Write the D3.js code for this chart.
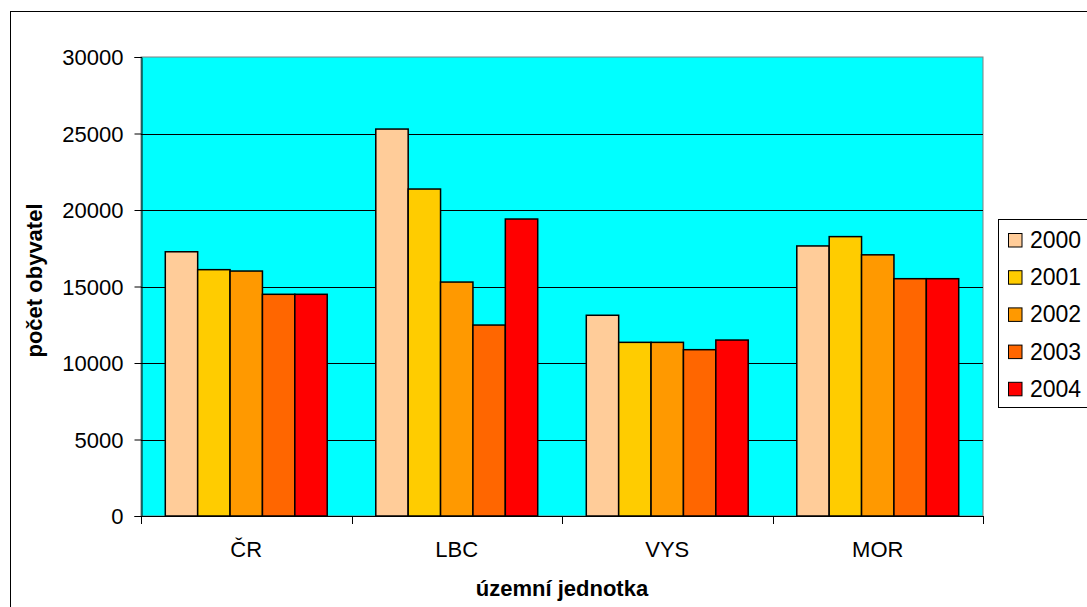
<!DOCTYPE html>
<html>
<head>
<meta charset="utf-8">
<script src="https://cdn.jsdelivr.net/npm/d3@7"></script>
<style>
  html, body { margin: 0; padding: 0; background: #fff; }
  svg { display: block; }
  text { font-family: "Liberation Sans", Arial, sans-serif; fill: #000; }
</style>
</head>
<body>
<svg id="chart" width="1087" height="607"></svg>
<script>
// Počet obyvatel podle územní jednotky, roky 2000–2004
const categories = ["ČR", "LBC", "VYS", "MOR"];
const years = ["2000", "2001", "2002", "2003", "2004"];
const v2000 = [17270, 25290, 13120, 17650];
const v2001 = [16100, 21370, 11350, 18260];
const v2002 = [16010, 15290, 11350, 17070];
const v2003 = [14490, 12480, 10870, 15510];
const v2004 = [14490, 19410, 11500, 15510];
const yTicks = [0, 5000, 10000, 15000, 20000, 25000, 30000];
const colors = ["#FFCC99", "#FFCC00", "#FF9900", "#FF6600", "#FF0000"];

const seriesValues = [v2000, v2001, v2002, v2003, v2004];
const rows = categories.map((c, i) => ({
  cat: c,
  vals: years.map((y, j) => ({ year: y, value: seriesValues[j][i], color: colors[j] }))
}));

const svg = d3.select("#chart");
const plot = { left: 141, right: 983, top: 57, bottom: 516 };

// outer chart border
svg.append("rect")
  .attr("x", 10.5).attr("y", 11.5)
  .attr("width", 1100).attr("height", 620)
  .attr("fill", "#fff").attr("stroke", "#000").attr("stroke-width", 1);

const x0 = d3.scaleBand().domain(categories).range([plot.left, plot.right]).paddingInner(0).paddingOuter(0);
const x1 = d3.scaleBand().domain(years).range([0, x0.bandwidth()]).paddingInner(0).paddingOuter(0.75);
const y = d3.scaleLinear().domain([0, 30000]).range([plot.bottom, plot.top]);

// plot area
svg.append("rect")
  .attr("x", plot.left).attr("y", plot.top)
  .attr("width", plot.right - plot.left).attr("height", plot.bottom - plot.top)
  .attr("fill", "#00FFFF").attr("stroke", "#808080").attr("stroke-width", 1);

// gridlines
svg.append("g").selectAll("line")
  .data(yTicks.filter(t => t > 0 && t < 30000))
  .join("line")
  .attr("x1", plot.left).attr("x2", plot.right)
  .attr("y1", d => Math.round(y(d)) + 0.5).attr("y2", d => Math.round(y(d)) + 0.5)
  .attr("stroke", "#000").attr("stroke-width", 1);

// bars
const groups = svg.append("g").selectAll("g")
  .data(rows).join("g")
  .attr("transform", d => `translate(${x0(d.cat)},0)`);
groups.selectAll("rect")
  .data(d => d.vals).join("rect")
  .attr("x", d => x1(d.year))
  .attr("y", d => y(d.value))
  .attr("width", x1.bandwidth())
  .attr("height", d => y(0) - y(d.value))
  .attr("fill", d => d.color)
  .attr("stroke", "#000").attr("stroke-width", 1.5);

// y axis
const yAxis = d3.axisLeft(y).tickValues(yTicks).tickSize(7).tickPadding(11).tickFormat(d3.format("d"));
const gy = svg.append("g").attr("transform", `translate(${plot.left + 0.5},0)`).call(yAxis);
gy.select(".domain").attr("stroke", "#000");
gy.selectAll(".tick line").attr("stroke", "#000");
gy.selectAll("text").style("font-size", "22px").attr("dy", "0.36em");

// x axis
const tickPositions = [plot.left, ...categories.map(c => x0(c) + x0.bandwidth())];
const gx = svg.append("g");
gx.append("line")
  .attr("x1", plot.left).attr("x2", plot.right)
  .attr("y1", plot.bottom + 0.5).attr("y2", plot.bottom + 0.5)
  .attr("stroke", "#000");
gx.selectAll("line.tk").data(tickPositions).join("line")
  .attr("class", "tk")
  .attr("x1", d => Math.round(d) + 0.5).attr("x2", d => Math.round(d) + 0.5)
  .attr("y1", plot.bottom).attr("y2", plot.bottom + 8)
  .attr("stroke", "#000");
gx.selectAll("text").data(categories).join("text")
  .attr("x", d => x0(d) + x0.bandwidth() / 2)
  .attr("y", 557)
  .attr("text-anchor", "middle")
  .style("font-size", "22px")
  .text(d => d);

// axis titles
svg.append("text")
  .attr("x", (plot.left + plot.right) / 2).attr("y", 596)
  .attr("text-anchor", "middle")
  .style("font-size", "22px").style("font-weight", "bold")
  .text("územní jednotka");
svg.append("text")
  .attr("transform", `translate(42,${(plot.top + plot.bottom) / 2 - 6}) rotate(-90)`)
  .attr("text-anchor", "middle")
  .style("font-size", "22px").style("font-weight", "bold")
  .text("počet obyvatel");

// legend
const lg = svg.append("g");
lg.append("rect")
  .attr("x", 998.5).attr("y", 219.5).attr("width", 120).attr("height", 188)
  .attr("fill", "#fff").attr("stroke", "#000");
const items = lg.selectAll("g.item").data(years).join("g")
  .attr("class", "item")
  .attr("transform", (d, i) => `translate(0,${248 + i * 37.2})`);
items.append("rect")
  .attr("x", 1008.5).attr("y", -14.5).attr("width", 13.5).attr("height", 13.5)
  .attr("fill", (d, i) => colors[i]).attr("stroke", "#000");
items.append("text")
  .attr("x", 1030).attr("y", 0)
  .style("font-size", "23px")
  .text(d => d);
</script>
</body>
</html>
